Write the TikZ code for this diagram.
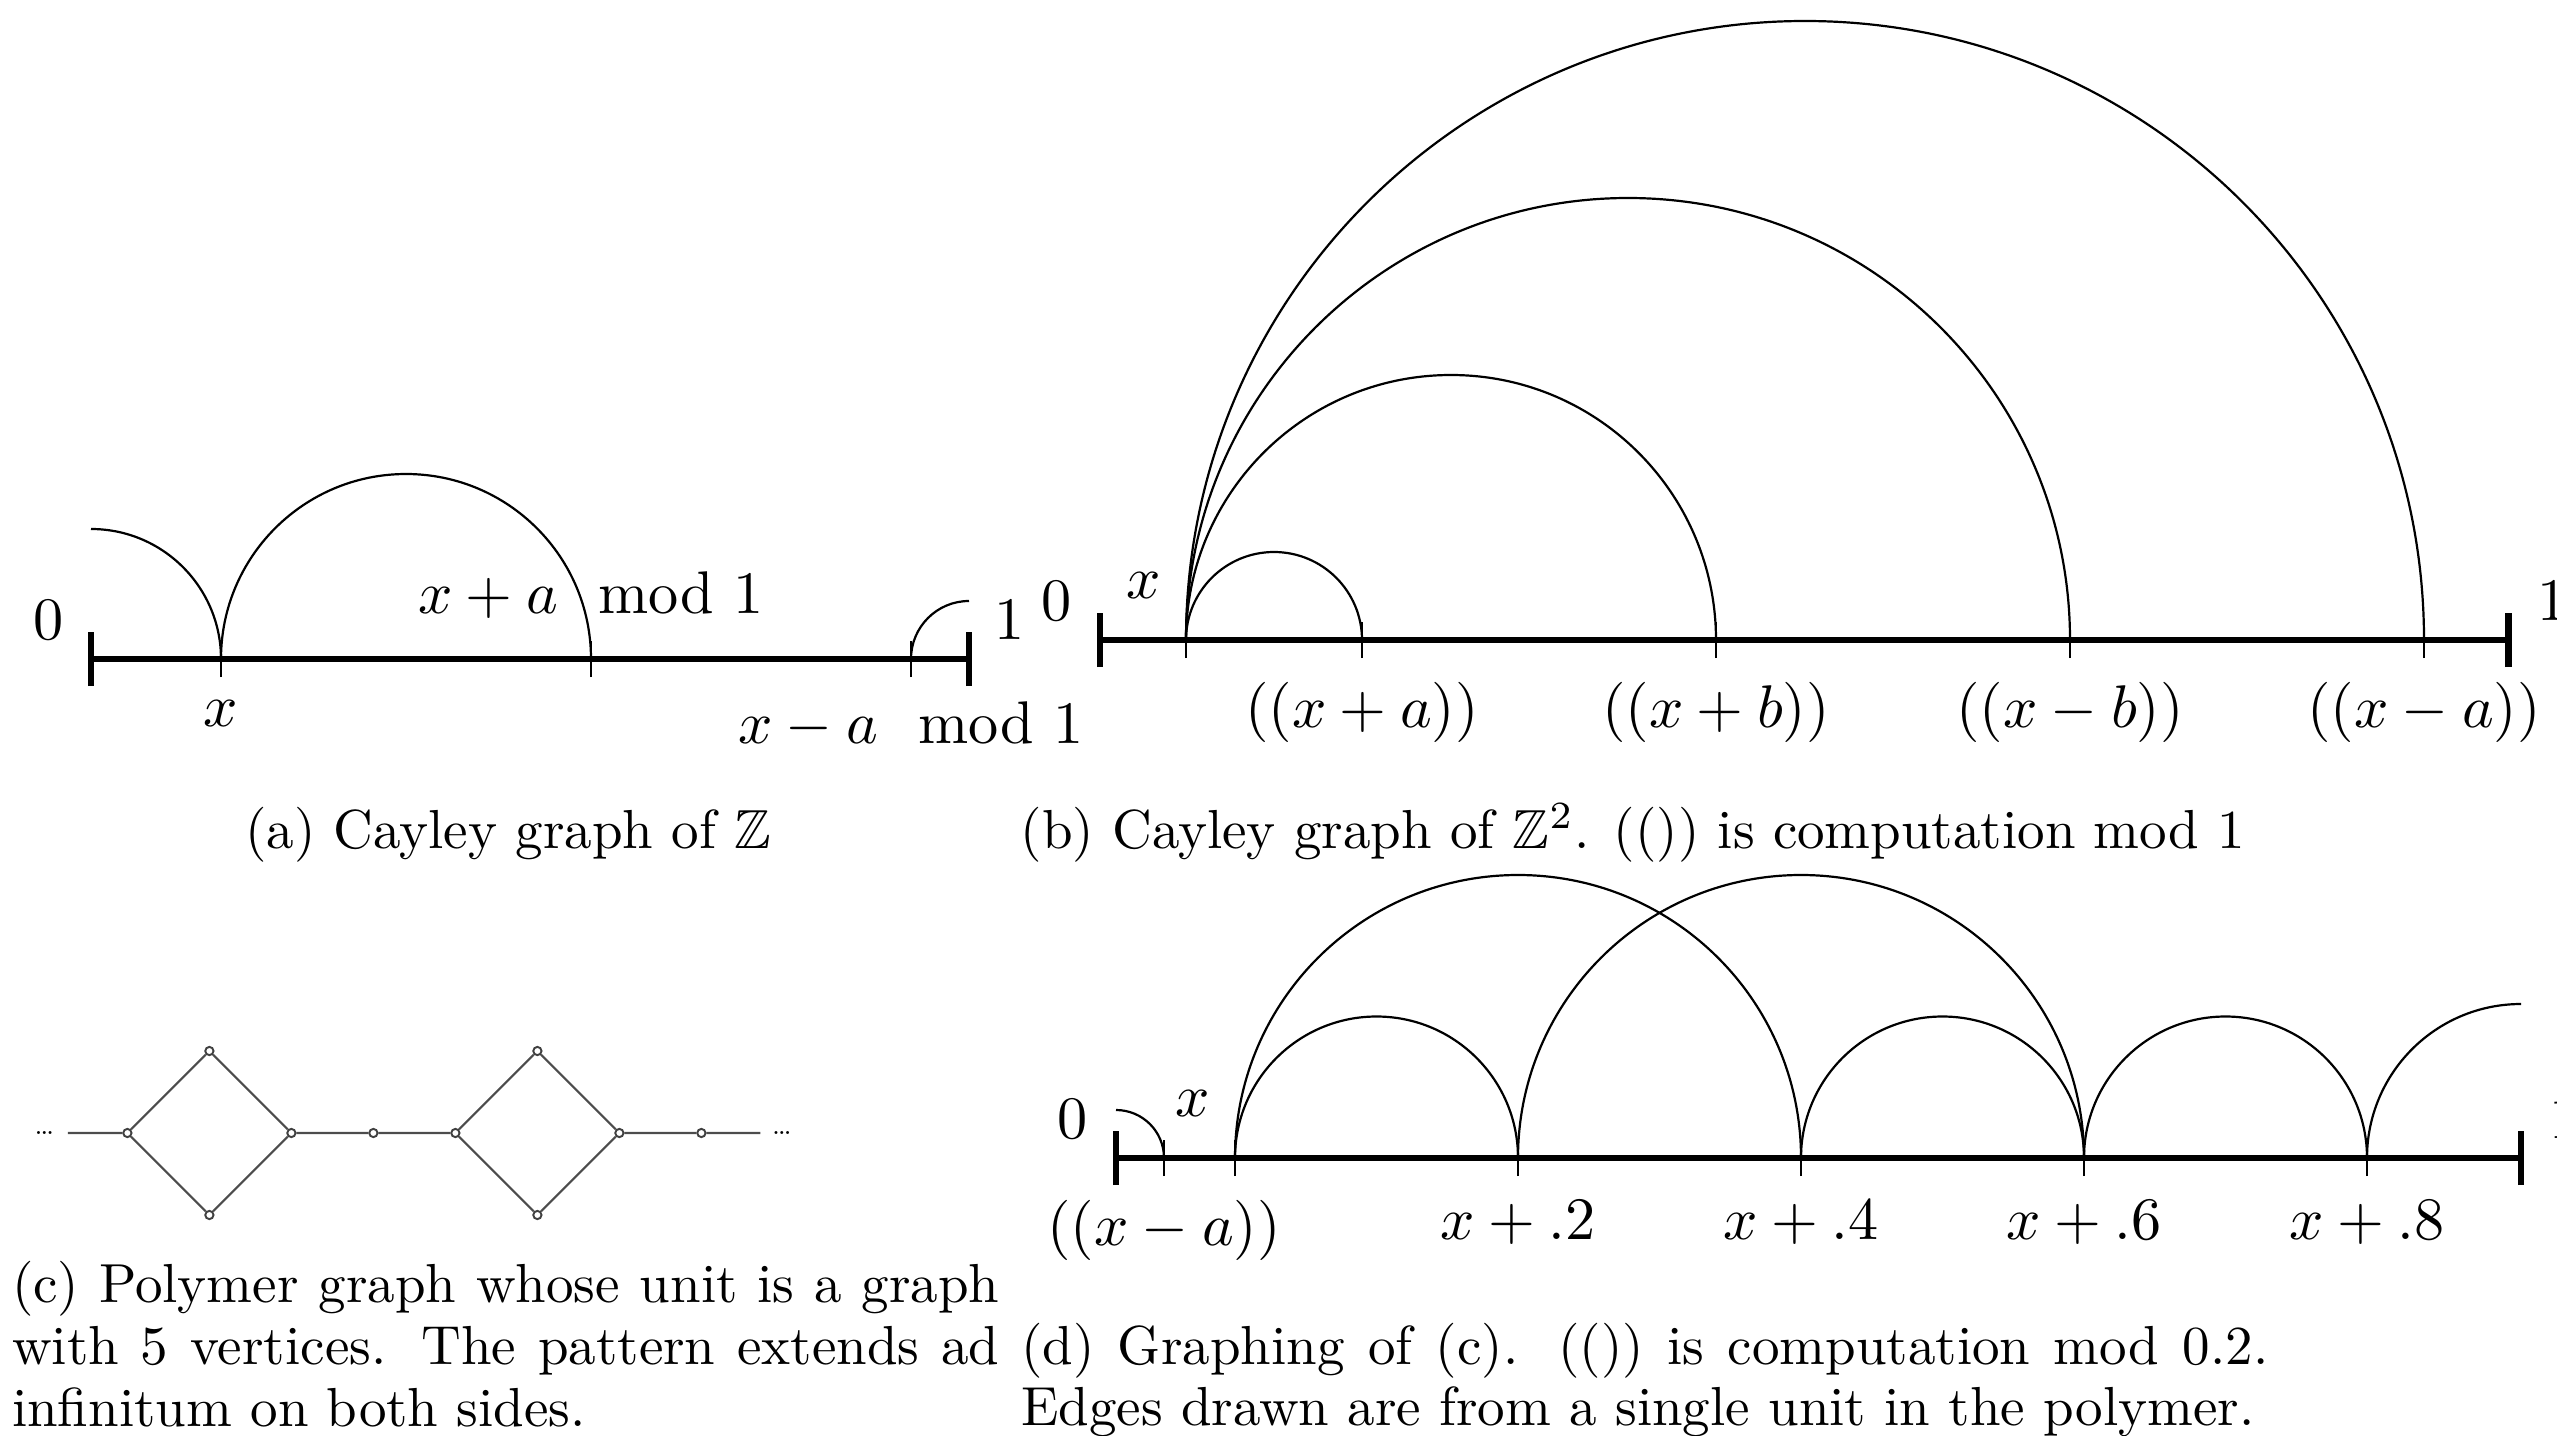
\documentclass[tikz,border=0pt]{standalone}
\usepackage{amsmath,amssymb}
\usetikzlibrary{positioning}

\begin{document}
\begin{tikzpicture}[x=6.39mm,y=6.39mm,
  axis/.style={line width=1.2pt},
  tick/.style={thin},
  edge/.style={thin},
  lbl/.style={font=\fontsize{11}{13}\selectfont,inner sep=3.33pt},
  captxt/.style={font=\fontsize{10}{11.2}\selectfont,inner sep=0pt},
  vert/.style={circle,draw=black!75,fill=white,line width=0.35pt,
               inner sep=0pt,minimum size=1.5pt},
  bond/.style={draw=black!70,line width=0.4pt},
]

\useasboundingbox (0,0) rectangle (25.57,14.35);

% (a) Cayley graph of Z
\coordinate (a0) at (0.91,7.76);
\coordinate (a1) at (9.69,7.76);
\coordinate (ax) at (2.21,7.76);
\coordinate (axp) at (5.91,7.76);
\coordinate (axm) at (9.11,7.76);

\draw[axis] (a0) -- (a1);
\foreach \p in {a0,a1} \draw[axis] (\p) ++(0,-0.27) -- ++(0,0.54);
\foreach \p in {ax,axp,axm} \draw[tick] (\p) ++(0,-0.18) -- ++(0,0.36);

\draw[edge] (ax) arc[start angle=180,end angle=0,radius=1.85];
\draw[edge] (ax) arc[start angle=0,end angle=90,radius=1.30];
\draw[edge] (axm) arc[start angle=180,end angle=90,radius=0.58];

\node[lbl,above left=0pt and 1.5pt of a0] (a0l) {$0$};
\node[lbl,above right=0pt and 1.1pt of a1] (a1l) {$1$};
\node[lbl,below=4pt of ax] (axl) {$x$};
\node[lbl,above=3.8pt of axp] (axpl) {$x+a \mod{1}$};
\node[lbl,below=4.2pt of axm] (axml) {$x-a \mod{1}$};

\node[captxt,anchor=base] (capa) at (5.08,5.87) {(a) Cayley graph of $\mathbb{Z}$};

% (b) Cayley graph of Z^2
\coordinate (b0) at (11.00,7.95);
\coordinate (b1) at (25.085,7.95);
\coordinate (bx) at (11.86,7.95);
\coordinate (bxpa) at (13.62,7.95);
\coordinate (bxpb) at (17.16,7.95);
\coordinate (bxmb) at (20.70,7.95);
\coordinate (bxma) at (24.24,7.95);

\draw[axis] (b0) -- (b1);
\foreach \p in {b0,b1} \draw[axis] (\p) ++(0,-0.27) -- ++(0,0.54);
\foreach \p in {bx,bxpa,bxpb,bxmb,bxma} \draw[tick] (\p) ++(0,-0.18) -- ++(0,0.36);

% one arc from x to each neighbour
\foreach \r in {0.88,2.65,4.42,6.19}
  \draw[edge] (bx) arc[start angle=180,end angle=0,radius=\r];

\node[lbl,above left=0pt and 1.6pt of b0] (b0l) {$0$};
\node[lbl,above right=0pt and 1.7pt of b1] (b1l) {$1$};
\node[lbl,above left=4pt and 1.1pt of bx] (bxl) {$x$};
\node[lbl,below=4.2pt of bxpa] (bxpal) {$((x+a))$};
\node[lbl,below=4.2pt of bxpb] (bxpbl) {$((x+b))$};
\node[lbl,below=4.2pt of bxmb] (bxmbl) {$((x-b))$};
\node[lbl,below=4.2pt of bxma] (bxmal) {$((x-a))$};

\node[captxt,anchor=base west] (capb) at (10.196,5.87)
  {(b) Cayley graph of $\mathbb{Z}^2$. (()) is computation mod 1};

% (c) polymer graph
\foreach \n/\xx/\yy in {p1/1.274/3.02, p2/2.094/3.84, p3/2.094/2.20,
                         p4/2.914/3.02, p5/3.734/3.02, p6/4.554/3.02,
                         p7/5.374/3.84, p8/5.374/2.20, p9/6.194/3.02,
                         p10/7.014/3.02}
  \node[vert] (\n) at (\xx,\yy) {};
\coordinate (pl) at (0.678,3.02);
\coordinate (pr) at (7.604,3.02);

\draw[bond] (pl) -- (p1) -- (p2) -- (p4) -- (p3) -- (p1)
            (p4) -- (p5) -- (p6) -- (p7) -- (p9) -- (p8) -- (p6)
            (p9) -- (p10) -- (pr);

\node[font=\fontsize{4.5}{5}\selectfont,inner sep=0pt] (dotl) at (0.445,3.02) {\dots};
\node[font=\fontsize{4.5}{5}\selectfont,inner sep=0pt] (dotr) at (7.82,3.02) {\dots};

\node[captxt,anchor=north west,text width=6.31cm,align=justify] (capc) at (0.11,1.745)
  {(c) Polymer graph whose unit is a graph\linebreak
   with 5 vertices. The pattern extends ad\linebreak
   infinitum on both sides.};

% (d) graphing of (c)
\coordinate (d0) at (11.16,2.77);
\coordinate (d1) at (25.21,2.77);
\coordinate (dxm) at (11.64,2.77);
\coordinate (dx) at (12.35,2.77);
\coordinate (dp2) at (15.18,2.77);
\coordinate (dp4) at (18.01,2.77);
\coordinate (dp6) at (20.84,2.77);
\coordinate (dp8) at (23.67,2.77);

\draw[axis] (d0) -- (d1);
\foreach \p in {d0,d1} \draw[axis] (\p) ++(0,-0.27) -- ++(0,0.54);
\foreach \p in {dxm,dx,dp2,dp4,dp6,dp8} \draw[tick] (\p) ++(0,-0.18) -- ++(0,0.36);

% short edges (+.2) and long edges (+.4)
\foreach \p in {dx,dp4,dp6}
  \draw[edge] (\p) arc[start angle=180,end angle=0,radius=1.415];
\foreach \p in {dx,dp2}
  \draw[edge] (\p) arc[start angle=180,end angle=0,radius=2.83];
\draw[edge] (dp8) arc[start angle=180,end angle=90,radius=1.54];
\draw[edge] (dxm) arc[start angle=0,end angle=90,radius=0.48];

\node[lbl,above left=0pt and 1.6pt of d0] (d0l) {$0$};
\node[lbl,above right=0pt and 1.6pt of d1] (d1l) {$1$};
\node[lbl,above left=4pt and 1.1pt of dx] (dxl) {$x$};
\node[lbl,below=4.2pt of dxm] (dxml) {$((x-a))$};
\node[lbl,below=4.2pt of dp2] (dp2l) {$x+.2$};
\node[lbl,below=4.2pt of dp4] (dp4l) {$x+.4$};
\node[lbl,below=4.2pt of dp6] (dp6l) {$x+.6$};
\node[lbl,below=4.2pt of dp8] (dp8l) {$x+.8$};

\node[captxt,anchor=north west,text width=7.97cm,align=justify] (capd) at (10.20,1.13)
  {(d) Graphing of (c). (()) is computation mod 0.2.\linebreak
   Edges drawn are from a single unit in the polymer.};

\end{tikzpicture}
\end{document}
